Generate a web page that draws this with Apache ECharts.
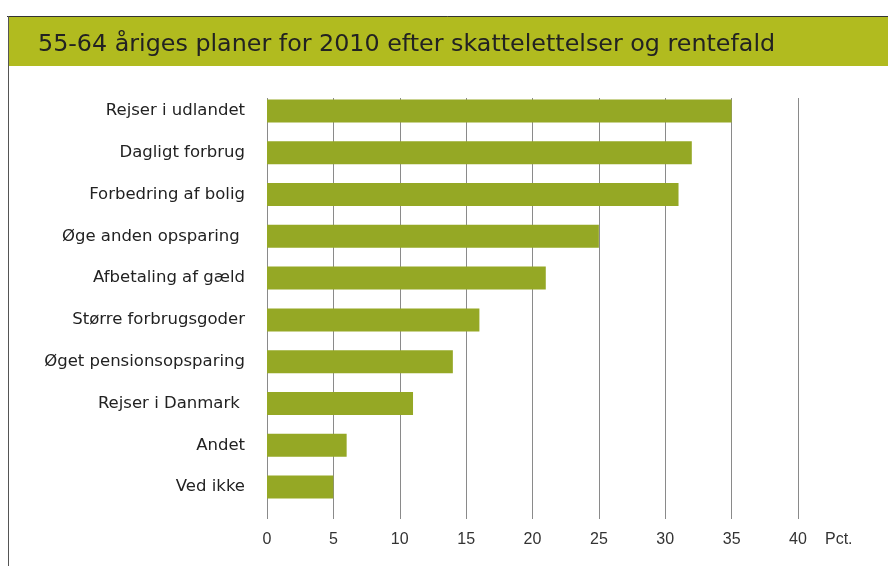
<!DOCTYPE html>
<html lang="da">
<head>
    <meta charset="utf-8" />
    <title>55-64 åriges planer</title>
    <script src="https://cdn.jsdelivr.net/npm/echarts@6/dist/echarts.min.js"></script>
    <style>
        html, body { margin: 0; padding: 0; background: #fff; }
    </style>
</head>
<body>
    <div id="main" style="width: 888px;height:566px;"></div>
    <script type="text/javascript">

        // categories, top to bottom as in the picture
        var categories = [
            'Rejser i udlandet',
            'Dagligt forbrug',
            'Forbedring af bolig',
            'Øge anden opsparing ',
            'Afbetaling af gæld',
            'Større forbrugsgoder',
            'Øget pensionsopsparing',
            'Rejser i Danmark ',
            'Andet',
            'Ved ikke'
        ];
        var values = [35, 32, 31, 25, 21, 16, 14, 11, 6, 5];
        var tickValues = [0, 5, 10, 15, 20, 25, 30, 35, 40];

        var myChart = echarts.init(document.getElementById('main'));

        var font = 'DejaVu Sans';
        var tickFont = 'Liberation Sans';

        option = {
            animation: false,
            title: {
                text: '55-64 åriges planer for 2010 efter skattelettelser og rentefald',
                left: 33,
                top: 28,
                textStyle: {
                    fontFamily: font,
                    fontSize: 23.8,
                    fontWeight: 'normal',
                    color: '#222'
                }
            },
            graphic: [
                { type: 'rect', z: -10, shape: { x: 8, y: 16, width: 880, height: 50 }, style: { fill: '#b1bb1f' } },
                { type: 'line', z: -5, shape: { x1: 7, y1: 16.5, x2: 888, y2: 16.5 }, style: { stroke: '#333', lineWidth: 1 } },
                { type: 'line', z: -5, shape: { x1: 8.5, y1: 16, x2: 8.5, y2: 566 }, style: { stroke: '#555', lineWidth: 1 } }
            ],
            grid: [
                // bars
                { left: 267, width: 531, top: 90, height: 418 },
                // grid lines and tick labels
                { left: 267, width: 531, top: 98, height: 421 }
            ],
            xAxis: [
                {
                    gridIndex: 0, type: 'value', min: 0, max: 40, interval: 5,
                    axisLine: { show: false }, axisTick: { show: false },
                    axisLabel: { show: false }, splitLine: { show: false }
                },
                {
                    gridIndex: 1, type: 'value', min: 0, max: 40, interval: 5,
                    name: 'Pct.',
                    nameLocation: 'end',
                    nameGap: 27,
                    nameTextStyle: { fontFamily: tickFont, fontSize: 16, color: '#333', verticalAlign: 'top', padding: [13, 0, 0, 0] },
                    axisLine: { show: false }, axisTick: { show: false },
                    axisLabel: {
                        fontFamily: tickFont, fontSize: 16, color: '#333', margin: 13,
                        formatter: function (v) { return tickValues.indexOf(v) >= 0 ? String(v) : ''; }
                    },
                    splitLine: { show: true, lineStyle: { color: '#8a8a8a', width: 1 } }
                }
            ],
            yAxis: [
                {
                    gridIndex: 0, type: 'category', data: categories, inverse: true,
                    axisLine: { show: false }, axisTick: { show: false },
                    axisLabel: { fontFamily: font, fontSize: 16.5, color: '#222', margin: 22 }
                },
                {
                    gridIndex: 1, type: 'value', min: 0, max: 1,
                    axisLine: { show: false }, axisTick: { show: false },
                    axisLabel: { show: false }, splitLine: { show: false }
                }
            ],
            series: [{
                type: 'bar',
                xAxisIndex: 0,
                yAxisIndex: 0,
                data: values,
                barWidth: 23,
                itemStyle: { color: '#95a825' },
                z: 5
            }]
        };

        myChart.setOption(option);

    </script>
</body>
</html>
